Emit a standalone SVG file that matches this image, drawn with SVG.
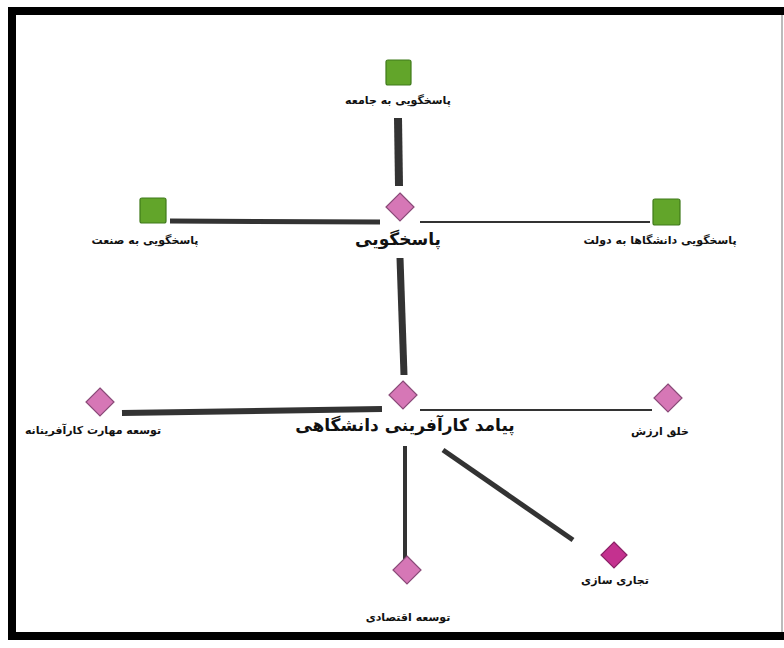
<svg xmlns="http://www.w3.org/2000/svg" width="784" height="648" viewBox="0 0 784 648">
<style>
.sq{fill:#62a52a;stroke:#3f7a1a;stroke-width:1.2}
.dm{fill:#d677b6;stroke:#8a4a78;stroke-width:1.2}
.dm2{fill:#c4318f;stroke:#8a2266;stroke-width:1.2}
.lbl{font-family:"DejaVu Sans",sans-serif;font-weight:bold;font-size:11px;fill:#111;text-anchor:middle;direction:rtl}
.big{font-family:"DejaVu Sans",sans-serif;font-weight:bold;font-size:17px;fill:#111;text-anchor:middle;direction:rtl}
.ln{stroke:#333;fill:none}
</style>
<rect x="0" y="0" width="784" height="648" fill="#fff"/>
<rect x="12" y="11" width="780" height="625" fill="#fff" stroke="#000" stroke-width="8"/>
<line x1="782" y1="15" x2="782" y2="632" stroke="#bbb" stroke-width="2"/>
<g id="connectors">
<line class="ln" x1="398" y1="118" x2="399" y2="186" stroke-width="8"/>
<line class="ln" x1="170" y1="221" x2="380" y2="222" stroke-width="5"/>
<line class="ln" x1="420" y1="222" x2="650" y2="222" stroke-width="2" stroke="#555"/>
<line class="ln" x1="400" y1="258" x2="404" y2="375" stroke-width="7"/>
<line class="ln" x1="122" y1="413" x2="382" y2="409" stroke-width="6"/>
<line class="ln" x1="420" y1="410" x2="652" y2="410" stroke-width="2" stroke="#333"/>
<line class="ln" x1="405" y1="446" x2="405" y2="560" stroke-width="4"/>
<line class="ln" x1="443" y1="450" x2="573" y2="540" stroke-width="5" stroke="#444"/>
</g>
<g id="n-jameh">
<rect class="sq" x="386" y="60" width="25" height="25" rx="2"/>
<text class="lbl" x="398" y="104">پاسخگویی به جامعه</text>
</g>
<g id="n-sanat">
<rect class="sq" x="140" y="198" width="26" height="25" rx="2"/>
<text class="lbl" x="145" y="244">پاسخگویی به صنعت</text>
</g>
<g id="n-dolat">
<rect class="sq" x="653" y="199" width="27" height="26" rx="2"/>
<text class="lbl" x="660" y="244">پاسخگویی دانشگاها به دولت</text>
</g>
<g id="n-pasokh">
<polygon class="dm" points="400,193 414,207 400,221 386,207"/>
<text class="big" x="398" y="245">پاسخگویی</text>
</g>
<g id="n-payamad">
<polygon class="dm" points="403,381 417,395 403,409 389,395"/>
<text class="big" x="405" y="431">پیامد کارآفرینی دانشگاهی</text>
</g>
<g id="n-mahart">
<polygon class="dm" points="100,388 114,402 100,416 86,402"/>
<text class="lbl" x="93" y="434">توسعه مهارت کارآفرینانه</text>
</g>
<g id="n-arzesh">
<polygon class="dm" points="668,384 682,398 668,412 654,398"/>
<text class="lbl" x="660" y="435">خلق ارزش</text>
</g>
<g id="n-eghtesadi">
<polygon class="dm" points="407,556 421,570 407,584 393,570"/>
<text class="lbl" x="408" y="621">توسعه اقتصادی</text>
</g>
<g id="n-tejari">
<polygon class="dm2" points="614,542 627,555 614,568 601,555"/>
<text class="lbl" x="615" y="584">تجاری سازی</text>
</g>
</svg>
